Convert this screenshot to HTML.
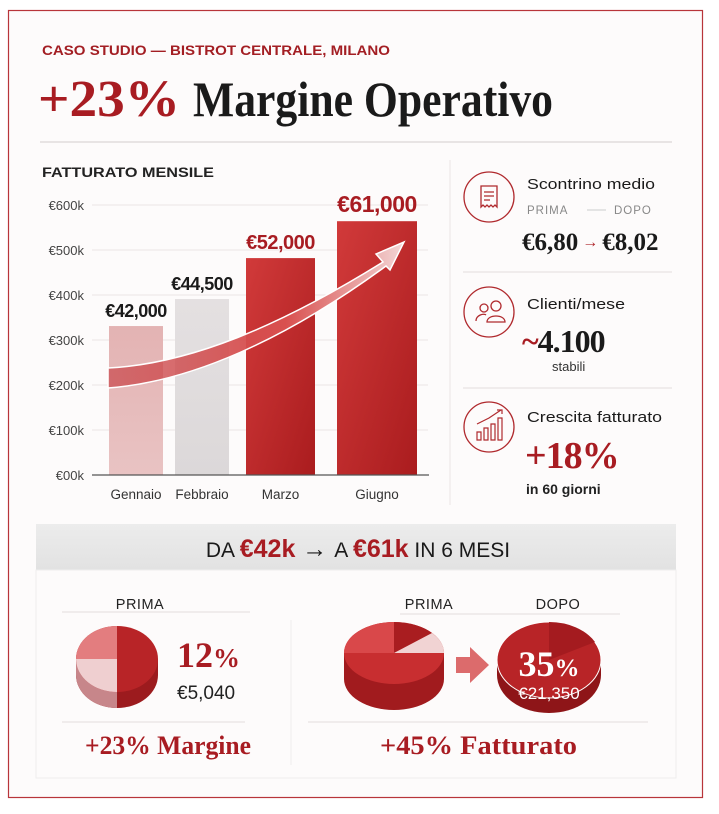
<!DOCTYPE html>
<html><head><meta charset="utf-8"><style>
html,body{margin:0;padding:0;background:#fff;}
svg{display:block;font-family:"Liberation Sans",sans-serif;}
.serif{font-family:"Liberation Serif",serif;}
</style></head><body>
<svg id="chart" width="719" height="814" viewBox="0 0 719 814">
<defs>
<linearGradient id="gJan" x1="0" y1="0" x2="0" y2="1"><stop offset="0" stop-color="#e3b3b3"/><stop offset="1" stop-color="#e9c3c3"/></linearGradient>
<linearGradient id="gFeb" x1="0" y1="0" x2="0" y2="1"><stop offset="0" stop-color="#e4e0e1"/><stop offset="1" stop-color="#dcd8d9"/></linearGradient>
<linearGradient id="gRed" x1="0" y1="0" x2="1" y2="1"><stop offset="0" stop-color="#d13a3a"/><stop offset="1" stop-color="#aa1c1e"/></linearGradient>
<linearGradient id="gArrow" x1="0" y1="0" x2="1" y2="0"><stop offset="0" stop-color="#c8474b" stop-opacity="0.7"/><stop offset="0.6" stop-color="#d9504f"/><stop offset="1" stop-color="#f3d6d6"/></linearGradient>
<linearGradient id="gBanner" x1="0" y1="0" x2="0" y2="1"><stop offset="0" stop-color="#ececec"/><stop offset="1" stop-color="#e2e2e2"/></linearGradient>
</defs>
<rect x="0" y="0" width="719" height="814" fill="#fff"/>
<rect x="8.5" y="10.5" width="694" height="787" fill="#fdfbfb" stroke="#b8353a" stroke-width="1.2"/>
<text x="42" y="55" font-size="13.5" font-weight="bold" fill="#a31e23" textLength="348" lengthAdjust="spacingAndGlyphs">CASO STUDIO  —  BISTROT CENTRALE, MILANO</text>
<text class="serif" x="38" y="116" font-size="52" font-weight="bold" fill="#a81c22" textLength="142" lengthAdjust="spacingAndGlyphs">+23%</text>
<text class="serif" x="193" y="116" font-size="50" font-weight="bold" fill="#1a1a1a" textLength="360" lengthAdjust="spacingAndGlyphs">Margine Operativo</text>
<line x1="40" y1="142" x2="672" y2="142" stroke="#e2dcdc" stroke-width="1.5"/>
<text x="42" y="177" font-size="13.5" font-weight="bold" fill="#222" textLength="172" lengthAdjust="spacingAndGlyphs">FATTURATO MENSILE</text>
<g id="axes"></g><g id="bars"></g>
<line x1="450" y1="160" x2="450" y2="505" stroke="#ece6e6"/>
<g>
<circle cx="489" cy="197" r="25" fill="none" stroke="#b02a2e" stroke-width="1.3"/>
<path d="M481 186h16v21l-2-2-2 2-2-2-2 2-2-2-2 2-2-2-2 2zM484 192h10M484 196h10M484 200h6" fill="none" stroke="#b02a2e" stroke-width="1.3"/>
<text x="527" y="189" font-size="15" fill="#1a1a1a" textLength="128" lengthAdjust="spacingAndGlyphs">Scontrino medio</text>
<text x="527" y="214" font-size="11.5" fill="#888" letter-spacing="1">PRIMA</text>
<line x1="587" y1="210" x2="606" y2="210" stroke="#ccc"/>
<text x="614" y="214" font-size="11.5" fill="#888" letter-spacing="1">DOPO</text>
<text class="serif" x="522" y="250" font-size="25" font-weight="bold" fill="#1a1a1a">€6,80<tspan fill="#b02a2e" font-size="16" dy="-3"> → </tspan><tspan dy="3">€8,02</tspan></text>
</g>
<line x1="463" y1="272" x2="672" y2="272" stroke="#e2dcdc"/>
<g>
<circle cx="489" cy="312" r="25" fill="none" stroke="#b02a2e" stroke-width="1.3"/>
<circle cx="496" cy="306" r="5" fill="none" stroke="#b02a2e" stroke-width="1.3"/><path d="M487 322c0-8 18-8 18 0z" fill="none" stroke="#b02a2e" stroke-width="1.3"/>
<circle cx="484" cy="308" r="4" fill="none" stroke="#b02a2e" stroke-width="1.3"/><path d="M476 321c0-6 8-8 10-6" fill="none" stroke="#b02a2e" stroke-width="1.3"/>
<text x="527" y="309" font-size="15" fill="#1a1a1a" textLength="98" lengthAdjust="spacingAndGlyphs">Clienti/mese</text>
<text class="serif" x="522" y="352" font-size="32" font-weight="bold" fill="#1a1a1a" letter-spacing="-1"><tspan fill="#a81c22">~</tspan>4.100</text>
<text x="552" y="371" font-size="13" fill="#333">stabili</text>
</g>
<line x1="463" y1="388" x2="672" y2="388" stroke="#e2dcdc"/>
<g>
<circle cx="489" cy="427" r="25" fill="none" stroke="#b02a2e" stroke-width="1.3"/>
<path d="M477 432h4v8h-4zM484 428h4v12h-4zM491 424h4v16h-4zM498 418h4v22h-4zM477 424l12-6 12-8M497 410h5v4" fill="none" stroke="#b02a2e" stroke-width="1.2"/>
<text x="527" y="422" font-size="15" fill="#1a1a1a" textLength="135" lengthAdjust="spacingAndGlyphs">Crescita fatturato</text>
<text class="serif" x="525" y="468" font-size="38" font-weight="bold" fill="#a81c22" letter-spacing="-1">+18%</text>
<text x="526" y="494" font-size="14" font-weight="bold" fill="#222">in 60 giorni</text>
</g>
<rect x="36" y="524" width="640" height="46" fill="url(#gBanner)"/>
<text x="358" y="557" font-size="25" text-anchor="middle" fill="#1a1a1a"><tspan font-size="21">DA </tspan><tspan fill="#a81c22" font-weight="bold">€42k</tspan><tspan> → </tspan><tspan font-size="21">A </tspan><tspan fill="#a81c22" font-weight="bold">€61k</tspan><tspan font-size="21"> IN 6 MESI</tspan></text>
<rect x="36" y="570" width="640" height="208" fill="none" stroke="#eee"/>
<line x1="291" y1="620" x2="291" y2="765" stroke="#eee"/>
<text x="140" y="609" font-size="14.5" text-anchor="middle" fill="#222" letter-spacing="0.5">PRIMA</text>
<line x1="62" y1="612" x2="250" y2="612" stroke="#e2dcdc"/>
<g>
<path d="M76 659 v16 a41 33 0 0 0 82 0 v-16z" fill="#9c1b1e"/>
<path d="M76 659 v16 a41 33 0 0 0 41 33 v-16z" fill="#c7868a"/>
<ellipse cx="117" cy="659" rx="41" ry="33" fill="#b82427"/>
<path d="M117 659 L117 626 A41 33 0 0 0 76 659 z" fill="#e37d7f"/>
<path d="M117 659 L76 659 A41 33 0 0 0 117 692 z" fill="#efcfd0"/>
</g>
<text class="serif" x="177" y="667" font-size="36" font-weight="bold" fill="#a81c22">12<tspan font-size="27">%</tspan></text>
<text x="177" y="699" font-size="19" fill="#222">€5,040</text>
<line x1="62" y1="722" x2="245" y2="722" stroke="#e2dcdc"/>
<text class="serif" x="85" y="754" font-size="26" font-weight="bold" fill="#a81c22" textLength="166" lengthAdjust="spacingAndGlyphs">+23% Margine</text>
<text x="429" y="609" font-size="14.5" text-anchor="middle" fill="#222" letter-spacing="0.5">PRIMA</text>
<text x="558" y="609" font-size="14.5" text-anchor="middle" fill="#222" letter-spacing="0.5">DOPO</text>
<line x1="400" y1="614" x2="620" y2="614" stroke="#e2dcdc"/>
<g>
<path d="M344 653 v26 a50 31 0 0 0 100 0 v-26z" fill="#a11b1e"/>
<ellipse cx="394" cy="653" rx="50" ry="31" fill="#c82e30"/>
<path d="M394 653 L394 622 A50 31 0 0 0 344 653 z" fill="#d9484a"/>
<path d="M394 653 L394 622 A50 31 0 0 1 432 633 z" fill="#a91d20"/>
<path d="M394 653 L432 633 A50 31 0 0 1 444 653 z" fill="#f1d3d3"/>
</g>
<path d="M456 657h14v-10l19 18-19 18v-10h-14z" fill="#dc6b6c"/>
<g>
<path d="M497 660 v15 a52 38 0 0 0 104 0 v-15z" fill="#8e1518"/>
<ellipse cx="549" cy="660" rx="52" ry="38" fill="#b82427" stroke="#fff" stroke-width="1"/>
<path d="M549 660 L549 622 A52 38 0 0 1 595 642 z" fill="#a41b1f"/>
</g>
<text class="serif" x="549" y="676" font-size="36" font-weight="bold" fill="#fff" text-anchor="middle">35<tspan font-size="25">%</tspan></text>
<text x="549" y="699" font-size="17" fill="#fff" text-anchor="middle">€21,350</text>
<line x1="308" y1="722" x2="648" y2="722" stroke="#e2dcdc"/>
<text class="serif" x="380" y="754" font-size="26" font-weight="bold" fill="#a81c22" textLength="197" lengthAdjust="spacingAndGlyphs">+45% Fatturato</text>
</svg>
<script>
const categories = ["Gennaio","Febbraio","Marzo","Giugno"];
const barValues = [331, 391, 482, 564];
const labelValues = ["€42,000","€44,500","€52,000","€61,000"];
const tickValues = [0,100,200,300,400,500,600];
const tickLabels = ["€00k","€100k","€200k","€300k","€400k","€500k","€600k"];
const NS="http://www.w3.org/2000/svg";
const y0=475, pxPer=45/100;
const yScale=v=>y0-v*pxPer;
const barX=[109,175,246,337], barW=[54,54,69,80];
const fills=["url(#gJan)","url(#gFeb)","url(#gRed)","url(#gRed)"];
const labColors=["#1a1a1a","#1a1a1a","#a81c22","#a81c22"];
const labSizes=[18,18,20,23];
function mk(tag,attrs,parent,txt){const e=document.createElementNS(NS,tag);for(const k in attrs)e.setAttribute(k,attrs[k]);if(txt!==undefined)e.textContent=txt;parent.appendChild(e);return e;}
const axes=document.getElementById('axes'), bars=document.getElementById('bars');
tickValues.forEach((t,i)=>{
  const y=yScale(t);
  if(t>0){const l=mk('line',{x1:92,x2:428,y1:y,y2:y,stroke:'#ebe6e6'},axes);
  
  }
  const tx=mk('text',{x:84,y:y+5,'font-size':13,'text-anchor':'end',fill:'#444'},axes,tickLabels[i]);
  
  
});
categories.forEach((c,i)=>{
  const y=yScale(barValues[i]);
  const r=mk('rect',{x:barX[i],y:y,width:barW[i],height:y0-y,fill:fills[i]},bars);
  
  
  const cx=barX[i]+barW[i]/2;
  const lb=mk('text',{x:cx,y:y-9,'font-size':labSizes[i],'font-weight':'bold','text-anchor':'middle',fill:labColors[i],'letter-spacing':'-0.5'},bars,labelValues[i]);
  
  
  const xl=mk('text',{x:cx,y:499,'font-size':13.5,'text-anchor':'middle',fill:'#333'},bars,c);
  
  
});
const base=mk('line',{x1:92,x2:429,y1:y0,y2:y0,stroke:'#555','stroke-width':1.2},bars);


const arr=mk('path',{d:'M108 368 C190 364 280 326 383 262 L376 254 L404 242 L390 270 L386 266 C285 340 190 382 108 388 Z',fill:'url(#gArrow)',stroke:'#fff','stroke-width':1.5},bars);


</script>
</body></html>
